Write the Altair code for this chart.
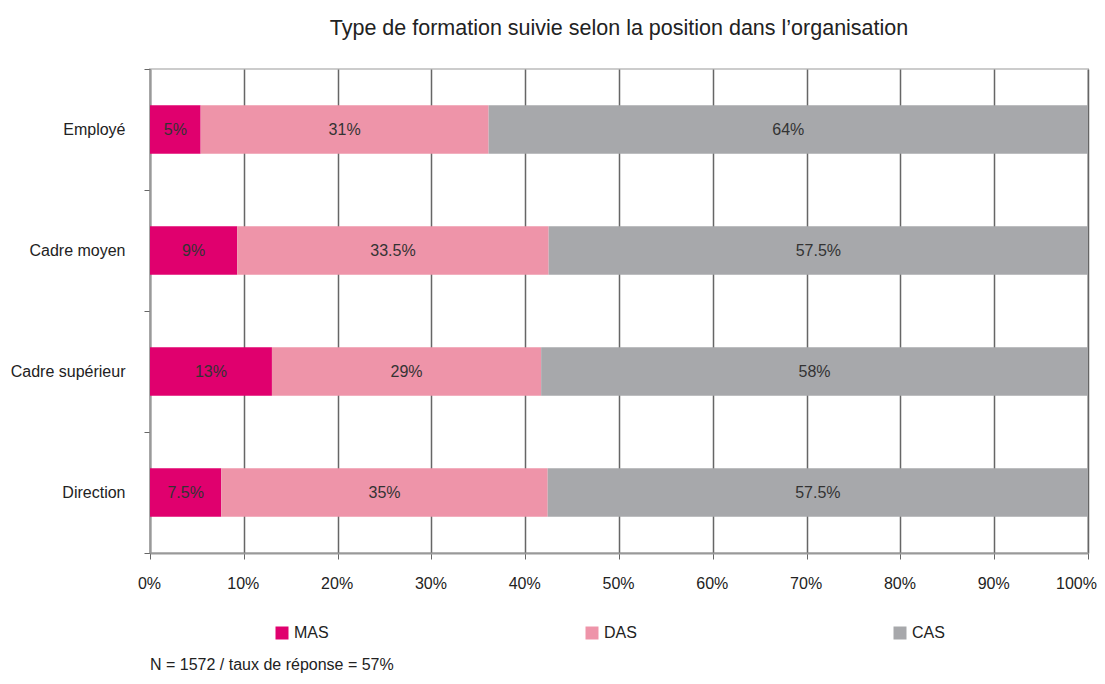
import altair as alt
import pandas as pd

positions = ["Employé", "Cadre moyen", "Cadre supérieur", "Direction"]
types = ["MAS", "DAS", "CAS"]
colors = ["#E0006E", "#EE94A9", "#A7A8AB"]
mas = [5.4, 9.3, 13.0, 7.6]
das = [30.7, 33.2, 28.7, 34.8]
cas = [63.9, 57.5, 58.3, 57.6]
mas_labels = ["5%", "9%", "13%", "7.5%"]
das_labels = ["31%", "33.5%", "29%", "35%"]
cas_labels = ["64%", "57.5%", "58%", "57.5%"]
title_text = "Type de formation suivie selon la position dans l’organisation"
footnote = "N = 1572 / taux de réponse = 57%"

rows = []
for i, p in enumerate(positions):
    for k, (t, vals, labs) in enumerate(zip(types, [mas, das, cas], [mas_labels, das_labels, cas_labels])):
        rows.append({"position": p, "type": t, "order": k, "value": vals[i], "label": labs[i]})
df = pd.DataFrame(rows)

FONT = "Liberation Sans"
FS = 16

base = alt.Chart(df).transform_stack(
    stack="value", as_=["x0", "x1"], groupby=["position"], sort=[alt.SortField("order")]
).transform_calculate(mid="(datum.x0 + datum.x1) / 2")

yenc = alt.Y(
    "position:N",
    sort=positions,
    title=None,
    scale=alt.Scale(paddingInner=0, paddingOuter=0),
    axis=alt.Axis(
        tickBand="extent", labelFont=FONT, labelFontSize=FS, labelColor="#222",
        labelPadding=19, tickSize=6, tickColor="#666", domainColor="#999",
        domainWidth=2, grid=False,
    ),
)

bars = base.mark_bar(height={"band": 0.4}).encode(
    x=alt.X(
        "x0:Q",
        scale=alt.Scale(domain=[0, 100], nice=False),
        title=None,
        axis=alt.Axis(
            values=list(range(0, 101, 10)), labelExpr="datum.value + '%'",
            labelFont=FONT, labelFontSize=FS, labelColor="#222", labelPadding=16,
            labelFlush=False,
            labelOffset=alt.expr("datum.value == 100 ? -12 : -1"),
            tickSize=6, tickColor="#666", domainColor="#999", domainWidth=2,
            grid=True, gridColor="#666", gridWidth=1.5,
        ),
    ),
    x2="x1:Q",
    y=yenc,
    color=alt.Color(
        "type:N",
        scale=alt.Scale(domain=types, range=colors),
        title=None,
        legend=alt.Legend(
            orient="none", legendX=124, legendY=556, direction="horizontal",
            columns=3, columnPadding=255, symbolType="square", symbolSize=169,
            symbolStrokeWidth=0, labelFont=FONT, labelFontSize=FS, labelColor="#222",
            labelOffset=4,
        ),
    ),
)

texts = base.mark_text(font=FONT, fontSize=FS, color="#333").encode(
    x="mid:Q",
    y=alt.Y("position:N", sort=positions),
    text="label:N",
)

foot = alt.Chart(pd.DataFrame({"t": [footnote]})).mark_text(
    font=FONT, fontSize=FS, color="#222", align="left", baseline="alphabetic"
).encode(x=alt.value(0), y=alt.value(601), text="t:N")

chart = alt.layer(bars, texts, foot).properties(
    width=938,
    height=484,
    title=alt.TitleParams(
        title_text, font=FONT, fontSize=21.5, fontWeight="normal", color="#222",
        anchor="middle", offset=22,
    ),
    autosize=alt.AutoSizeParams(type="none"),
    padding={"left": 142, "top": 61, "right": 9, "bottom": 123},
).configure_view(stroke="#ccc", strokeWidth=2)

chart.save("out.html", embed_options={"renderer": "svg", "actions": False})
